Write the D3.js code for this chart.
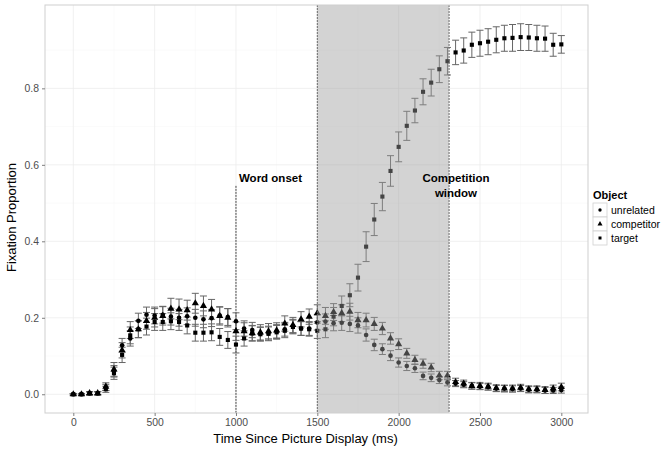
<!DOCTYPE html>
<html>
<head>
<meta charset="utf-8">
<script src="https://cdn.jsdelivr.net/npm/d3@7"></script>
<style>
  html, body { margin: 0; padding: 0; background: #fff; }
  svg { display: block; font-family: "Liberation Sans", Arial, Helvetica, sans-serif; }
</style>
</head>
<body>
<svg id="chart" width="664" height="454"></svg>
<script>
// ---------- DATA ----------
const times = [0,50,100,150,200,250,300,350,400,450,500,550,600,650,700,750,800,850,900,950,
  1000,1050,1100,1150,1200,1250,1300,1350,1400,1450,1500,1550,1600,1650,1700,1750,1800,1850,1900,1950,
  2000,2050,2100,2150,2200,2250,2300,2350,2400,2450,2500,2550,2600,2650,2700,2750,2800,2850,2900,2950,3000];

const unrelated = [0.000,0.000,0.003,0.003,0.018,0.060,0.128,0.146,0.192,0.208,0.206,0.208,0.203,0.200,0.204,0.200,0.196,0.199,0.206,0.202,
  0.191,0.172,0.168,0.158,0.160,0.164,0.170,0.178,0.172,0.172,0.188,0.190,0.186,0.187,0.184,0.180,0.155,0.129,0.118,0.101,
  0.083,0.074,0.068,0.048,0.043,0.037,0.031,0.028,0.025,0.022,0.020,0.019,0.015,0.015,0.014,0.015,0.012,0.012,0.010,0.010,0.011];
const unrelatedErr = [0.002,0.002,0.004,0.004,0.008,0.015,0.018,0.020,0.020,0.020,0.022,0.022,0.022,0.022,0.022,0.022,0.022,0.022,0.022,0.022,
  0.022,0.020,0.020,0.018,0.018,0.018,0.018,0.018,0.018,0.018,0.020,0.020,0.020,0.020,0.020,0.020,0.016,0.015,0.014,0.013,
  0.012,0.012,0.011,0.010,0.010,0.009,0.009,0.008,0.008,0.008,0.008,0.008,0.008,0.008,0.008,0.008,0.008,0.008,0.008,0.008,0.008];

const competitor = [0.000,0.000,0.003,0.003,0.020,0.065,0.115,0.168,0.170,0.192,0.200,0.205,0.224,0.222,0.220,0.238,0.231,0.222,0.205,0.200,
  0.165,0.165,0.160,0.162,0.165,0.167,0.185,0.181,0.196,0.203,0.212,0.205,0.215,0.212,0.216,0.194,0.194,0.184,0.172,0.146,
  0.131,0.107,0.090,0.080,0.070,0.049,0.049,0.032,0.028,0.022,0.022,0.020,0.016,0.015,0.015,0.017,0.013,0.013,0.011,0.015,0.019];
const competitorErr = [0.002,0.002,0.004,0.004,0.010,0.018,0.020,0.022,0.022,0.022,0.024,0.024,0.027,0.027,0.026,0.026,0.026,0.026,0.024,0.024,
  0.024,0.022,0.020,0.020,0.020,0.020,0.020,0.020,0.020,0.020,0.022,0.022,0.022,0.022,0.022,0.020,0.018,0.017,0.016,0.015,
  0.014,0.013,0.012,0.012,0.011,0.011,0.011,0.010,0.009,0.009,0.009,0.009,0.009,0.009,0.009,0.009,0.009,0.009,0.009,0.009,0.010];

const target = [0.000,0.000,0.002,0.002,0.013,0.055,0.103,0.154,0.170,0.177,0.189,0.189,0.191,0.189,0.180,0.161,0.161,0.162,0.150,0.142,
  0.130,0.146,0.159,0.157,0.158,0.162,0.166,0.176,0.172,0.170,0.166,0.170,0.203,0.231,0.259,0.305,0.386,0.457,0.517,0.584,
  0.647,0.702,0.742,0.791,0.815,0.850,0.871,0.894,0.899,0.914,0.918,0.922,0.927,0.931,0.932,0.934,0.933,0.931,0.930,0.914,0.915];
const targetErr = [0.002,0.002,0.004,0.004,0.008,0.016,0.020,0.022,0.022,0.022,0.022,0.022,0.022,0.022,0.022,0.022,0.022,0.022,0.022,0.022,
  0.022,0.020,0.020,0.018,0.018,0.018,0.018,0.018,0.018,0.018,0.020,0.022,0.024,0.026,0.030,0.035,0.039,0.042,0.037,0.040,
  0.039,0.038,0.032,0.034,0.035,0.035,0.036,0.032,0.033,0.033,0.034,0.034,0.034,0.034,0.035,0.035,0.034,0.034,0.033,0.030,0.023];

const seriesNames = ["unrelated", "competitor", "target"];
const xTicks = [0, 500, 1000, 1500, 2000, 2500, 3000];
const xMinor = [250, 750, 1250, 1750, 2250, 2750];
const yTicks = [0.0, 0.2, 0.4, 0.6, 0.8];
const yMinor = [0.1, 0.3, 0.5, 0.7, 0.9];
const wordOnset = 1000;
const compWindow = [1500, 2310];

// ---------- LAYOUT ----------
const svg = d3.select("#chart");
const panel = {left: 45, right: 588, top: 5, bottom: 413};
const x = d3.scaleLinear().domain([-174, 3164]).range([panel.left, panel.right]);
const y = d3.scaleLinear().domain([-0.049, 1.018]).range([panel.bottom, panel.top]);

const g = svg.append("g");

// grid
g.selectAll(".xminor").data(xMinor).enter().append("line")
  .attr("x1", d => x(d)).attr("x2", d => x(d)).attr("y1", panel.top).attr("y2", panel.bottom)
  .attr("stroke", "#f6f6f6").attr("stroke-width", 0.6);
g.selectAll(".yminor").data(yMinor).enter().append("line")
  .attr("y1", d => y(d)).attr("y2", d => y(d)).attr("x1", panel.left).attr("x2", panel.right)
  .attr("stroke", "#f6f6f6").attr("stroke-width", 0.6);
g.selectAll(".xmajor").data(xTicks).enter().append("line")
  .attr("x1", d => x(d)).attr("x2", d => x(d)).attr("y1", panel.top).attr("y2", panel.bottom)
  .attr("stroke", "#ececec").attr("stroke-width", 0.8);
g.selectAll(".ymajor").data(yTicks).enter().append("line")
  .attr("y1", d => y(d)).attr("y2", d => y(d)).attr("x1", panel.left).attr("x2", panel.right)
  .attr("stroke", "#ececec").attr("stroke-width", 0.8);

// word onset line
g.append("line")
  .attr("x1", x(wordOnset)).attr("x2", x(wordOnset))
  .attr("y1", y(0.545)).attr("y2", panel.bottom)
  .attr("stroke", "#444").attr("stroke-width", 1).attr("stroke-dasharray", "2,1");

// data
const data = {
  unrelated: times.map((t, i) => ({t, v: unrelated[i], e: unrelatedErr[i]})),
  competitor: times.map((t, i) => ({t, v: competitor[i], e: competitorErr[i]})),
  target: times.map((t, i) => ({t, v: target[i], e: targetErr[i]}))
};
const shapes = {
  unrelated: d3.symbol().type(d3.symbolCircle).size(17),
  competitor: d3.symbol().type(d3.symbolTriangle).size(22),
  target: d3.symbol().type(d3.symbolSquare).size(17)
};

const cap = 3.5;
seriesNames.forEach(name => {
  const eg = g.append("g").attr("stroke", "#666").attr("stroke-width", 1).attr("fill", "none");
  data[name].forEach(d => {
    const y1 = y(d.v + d.e), y2 = y(d.v - d.e), cx = x(d.t);
    eg.append("line").attr("x1", cx).attr("x2", cx).attr("y1", y1).attr("y2", y2);
    eg.append("line").attr("x1", cx - cap).attr("x2", cx + cap).attr("y1", y1).attr("y2", y1);
    eg.append("line").attr("x1", cx - cap).attr("x2", cx + cap).attr("y1", y2).attr("y2", y2);
  });
});
seriesNames.forEach(name => {
  g.append("g").selectAll("path").data(data[name]).enter().append("path")
    .attr("d", shapes[name])
    .attr("transform", d => `translate(${x(d.t)},${y(d.v)})`)
    .attr("fill", "#000");
});

// competition window rect (drawn over points)
g.append("rect")
  .attr("x", x(compWindow[0])).attr("width", x(compWindow[1]) - x(compWindow[0]))
  .attr("y", panel.top).attr("height", panel.bottom - panel.top)
  .attr("fill", "#9a9a9a").attr("fill-opacity", 0.44);
[compWindow[0], compWindow[1]].forEach(v => {
  g.append("line").attr("x1", x(v)).attr("x2", x(v)).attr("y1", panel.top).attr("y2", panel.bottom)
    .attr("stroke", "#6a6a6a").attr("stroke-width", 1).attr("stroke-dasharray", "2,1");
});

// annotations
g.append("text").attr("x", x(wordOnset) + 3).attr("y", 182)
  .attr("font-size", 11.5).attr("font-weight", "bold").attr("fill", "#000").text("Word onset");
const cw = g.append("text").attr("x", 456).attr("y", 182)
  .attr("font-size", 11.5).attr("font-weight", "bold").attr("text-anchor", "middle").attr("fill", "#000");
cw.append("tspan").attr("x", 456).attr("dy", 0).text("Competition");
cw.append("tspan").attr("x", 456).attr("dy", 15).text("window");

// panel border
g.append("rect").attr("x", panel.left).attr("y", panel.top)
  .attr("width", panel.right - panel.left).attr("height", panel.bottom - panel.top)
  .attr("fill", "none").attr("stroke", "#cfcfcf").attr("stroke-width", 1);

// axes
const xAxis = d3.axisBottom(x).tickValues(xTicks).tickSize(3).tickPadding(3).tickFormat(d3.format("d"));
const ax = svg.append("g").attr("transform", `translate(0,${panel.bottom})`).call(xAxis);
const yAxis = d3.axisLeft(y).tickValues(yTicks).tickSize(3).tickPadding(3).tickFormat(d3.format(".1f"));
const ay = svg.append("g").attr("transform", `translate(${panel.left},0)`).call(yAxis);
[ax, ay].forEach(a => {
  a.select(".domain").remove();
  a.selectAll(".tick line").attr("stroke", "#7f7f7f");
  a.selectAll(".tick text").attr("fill", "#4d4d4d").attr("font-size", 10.4)
    .attr("font-family", "Liberation Sans, Arial, sans-serif");
});

// axis titles
svg.append("text").attr("x", 305.5).attr("y", 443).attr("text-anchor", "middle")
  .attr("font-size", 13).attr("fill", "#000").text("Time Since Picture Display (ms)");
svg.append("text").attr("transform", "translate(16,217.5) rotate(-90)").attr("text-anchor", "middle")
  .attr("font-size", 13).attr("fill", "#000").text("Fixation Proportion");

// legend
const lg = svg.append("g").attr("transform", "translate(592,0)");
lg.append("text").attr("x", 1).attr("y", 199).attr("font-size", 11).attr("font-weight", "bold")
  .attr("fill", "#000").text("Object");
const legendShapes = {
  unrelated: d3.symbol().type(d3.symbolCircle).size(9),
  competitor: d3.symbol().type(d3.symbolTriangle).size(11),
  target: d3.symbol().type(d3.symbolSquare).size(9)
};
seriesNames.forEach((name, i) => {
  const cy = 210 + i * 14;
  lg.append("rect").attr("x", 1).attr("y", cy - 7).attr("width", 14).attr("height", 14)
    .attr("fill", "#fff").attr("stroke", "#d0d0d0").attr("stroke-width", 0.8);
  lg.append("path").attr("d", legendShapes[name]).attr("transform", `translate(8,${cy})`).attr("fill", "#000");
  lg.append("text").attr("x", 19).attr("y", cy + 4).attr("font-size", 10.5).attr("fill", "#000").text(name);
});
</script>
</body>
</html>
